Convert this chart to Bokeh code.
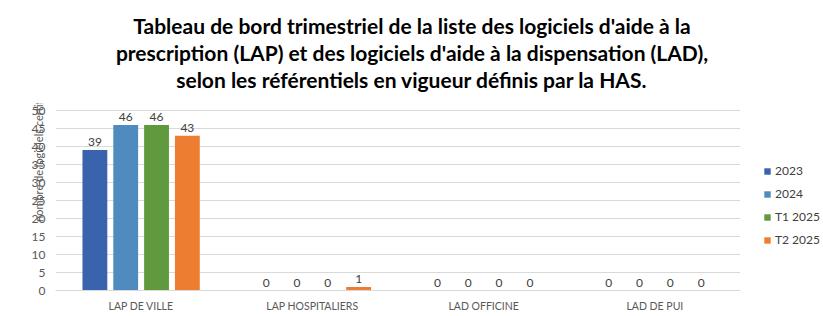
from bokeh.plotting import figure
from bokeh.models import FactorRange, Legend, LegendItem, ColumnDataSource, Range1d
from bokeh.layouts import column
from bokeh.transform import dodge
from bokeh.core.properties import value
from bokeh.embed import file_html
from bokeh.resources import INLINE

categories = ["LAP DE VILLE", "LAP HOSPITALIERS", "LAD OFFICINE", "LAD DE PUI"]
series = ["2023", "2024", "T1 2025", "T2 2025"]
v2023 = [39, 0, 0, 0]
v2024 = [46, 0, 0, 0]
vT1_2025 = [46, 0, 0, 0]
vT2_2025 = [43, 1, 0, 0]
colors = ["#3a63ad", "#4f8bbf", "#5f9a3e", "#ed7d31"]
offsets = [-0.27, -0.09, 0.09, 0.27]
yticks = list(range(0, 51, 5))

title_lines = ["Tableau de bord trimestriel de la liste des logiciels d'aide à la",
               "prescription (LAP) et des logiciels d'aide à la dispensation (LAD),",
               "selon les référentiels en vigueur définis par la HAS."]
axis_title = "nombre de logiciels certifiés"

FONT = "Lato"

# ---- title block (its own small figure, page-pixel ranges) ----
tf = figure(width=823, height=103, output_backend="svg", toolbar_location=None,
            x_range=Range1d(55, 740), y_range=Range1d(103, 0),
            min_border_left=55, min_border_right=83, min_border_top=0, min_border_bottom=0,
            outline_line_color=None)
tf.frame_width = 685
tf.frame_height = 103
tf.axis.visible = False
tf.grid.visible = False
tsrc = ColumnDataSource(dict(x=[411.5] * 3, y=[25, 52, 79], t=title_lines))
tf.text(x="x", y="y", text="t", source=tsrc, text_align="center", text_baseline="middle",
        text_font=value(FONT), text_font_size="21px", text_font_style="bold",
        text_color="#000000")

# ---- chart ----
p = figure(x_range=FactorRange(*categories, range_padding=0), y_range=(0, 187 / 3.6),
           width=823, height=213, output_backend="svg", toolbar_location=None,
           min_border_left=55, min_border_right=83, min_border_bottom=26, min_border_top=0)
p.frame_width = 685
p.frame_height = 187

src = ColumnDataSource(dict(cat=categories, s0=v2023, s1=v2024, s2=vT1_2025, s3=vT2_2025,
                            l0=[str(v) for v in v2023], l1=[str(v) for v in v2024],
                            l2=[str(v) for v in vT1_2025], l3=[str(v) for v in vT2_2025]))

items = []
for i, name in enumerate(series):
    r = p.vbar(x=dodge("cat", offsets[i], range=p.x_range), top=f"s{i}", width=0.145,
               source=src, fill_color=colors[i], line_color=None)
    p.text(x=dodge("cat", offsets[i], range=p.x_range), y=f"s{i}", text=f"l{i}",
           source=src, text_align="center", text_baseline="bottom", y_offset=-4,
           text_font=value(FONT), text_font_size="12px", text_color="#404040")
    items.append(LegendItem(label=name, renderers=[r]))

legend = Legend(items=items, location=(23, 43), glyph_width=8, glyph_height=8,
                label_text_font=FONT, label_text_font_size="12px", label_text_color="#404040",
                spacing=8, label_height=14, border_line_color=None, background_fill_alpha=0,
                padding=0, margin=0, label_standoff=4)
p.add_layout(legend, "right")

p.yaxis.ticker = yticks
p.yaxis.axis_line_color = None
p.yaxis.major_tick_line_color = None
p.yaxis.minor_tick_line_color = None
p.yaxis.major_label_text_font = FONT
p.yaxis.major_label_text_font_size = "12px"
p.yaxis.major_label_text_color = "#595959"
p.yaxis.major_label_standoff = 4
p.yaxis.axis_label = "\u00a0" * 30 + axis_title
p.yaxis.axis_label_text_font = FONT
p.yaxis.axis_label_text_font_size = "11px"
p.yaxis.axis_label_text_font_style = "normal"
p.yaxis.axis_label_text_color = "#595959"
p.yaxis.axis_label_standoff = -16

p.xaxis.axis_line_color = "#d9d9d9"
p.xaxis.major_tick_line_color = None
p.xaxis.minor_tick_line_color = None
p.xaxis.major_label_text_font = FONT
p.xaxis.major_label_text_font_size = "10.5px"
p.xaxis.major_label_text_color = "#595959"
p.xaxis.major_label_standoff = 3

p.xgrid.grid_line_color = None
p.ygrid.grid_line_color = "#d9d9d9"
p.ygrid.ticker = yticks
p.outline_line_color = None

layout = column(tf, p, spacing=0)
open("out.html", "w").write(file_html(layout, INLINE))
